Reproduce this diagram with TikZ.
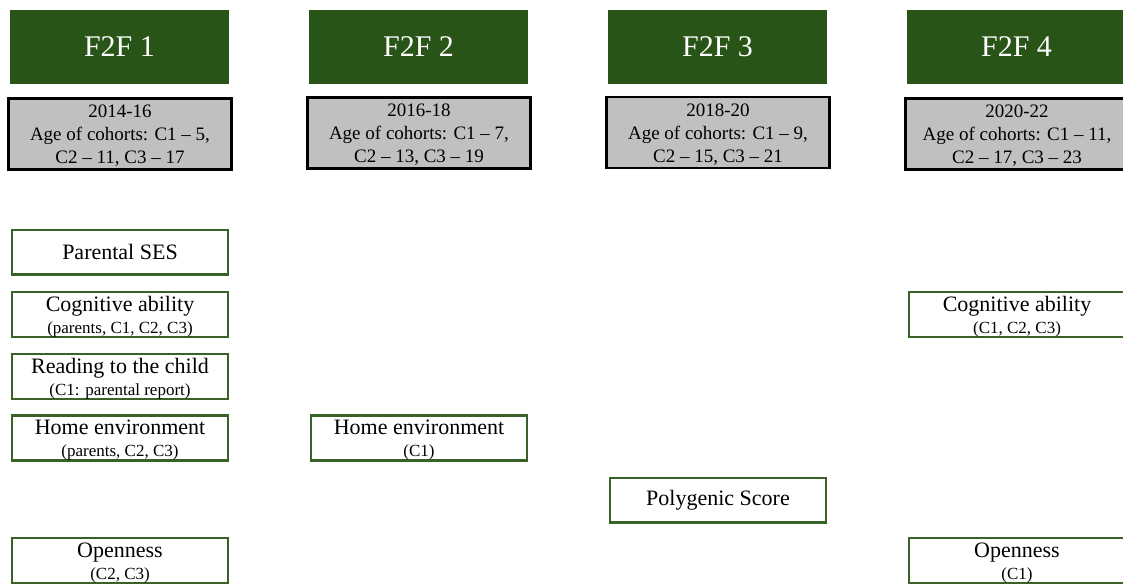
\documentclass[tikz,border=0pt]{standalone}
\usepackage{fontspec}
\setmainfont{Liberation Serif}
\usepackage{xcolor}
\usetikzlibrary{positioning}
\definecolor{wavegreen}{RGB}{41,84,24}
\definecolor{boxgreen}{RGB}{56,99,40}
\definecolor{yeargray}{RGB}{192,192,192}
\newcommand{\whonote}[1]{{\fontsize{17}{17}\selectfont #1}}

\begin{document}
\begin{tikzpicture}[x=1pt, y=-1pt,
		wave/.style={fill=wavegreen, text=white, minimum width=219pt, minimum height=74pt, inner sep=0pt, font=\fontsize{30}{32}\selectfont},
		yearbox/.style={draw=black, line width=2.8pt, fill=yeargray, minimum width=223pt, minimum height=71pt, inner sep=0pt, align=center, font=\fontsize{19}{23}\selectfont},
		measure/.style={draw=boxgreen, line width=2.5pt, minimum width=216pt, minimum height=44.5pt, inner sep=0pt, align=center, font=\fontsize{22}{22}\selectfont}]
					\useasboundingbox (0,0) rectangle (1123,583);
					\clip (0,0) rectangle (1123,583);
					% Waves
					\node[wave] (f2f1) at (119.5,47) {F2F 1};
					\node[wave] (f2f2) at (418.5,47) {F2F 2};
					\node[wave] (f2f3) at (717.5,47) {F2F 3};
					\node[wave] (f2f4) at (1016.5,47) {F2F 4};
					% Years and ages of cohorts
					\node[yearbox] (years1) at (120,134) {\rule{0pt}{16pt}2014-16\\Age of cohorts: C1 -- 5,\\C2 -- 11, C3 -- 17};
					\node[yearbox] (years2) at (419,133) {\rule{0pt}{16pt}2016-18\\Age of cohorts: C1 -- 7,\\C2 -- 13, C3 -- 19};
					\node[yearbox] (years3) at (718,132.5) {\rule{0pt}{16pt}2018-20\\Age of cohorts: C1 -- 9,\\C2 -- 15, C3 -- 21};
					\node[yearbox] (years4) at (1017,134) {\rule{0pt}{16pt}2020-22\\Age of cohorts: C1 -- 11,\\C2 -- 17, C3 -- 23};
					% F2F 1 measures
					\node[measure] (ses1) at (120,252) {Parental SES};
					\node[measure] (cog1) at (120,314.5) {\rule{0pt}{19pt}Cognitive ability\\\whonote{(parents, C1, C2, C3)}};
					\node[measure] (read1) at (120,376.5) {\rule{0pt}{19pt}Reading to the child\\\whonote{(C1: parental report)}};
					\node[measure] (home1) at (120,438) {\rule{0pt}{19pt}Home environment\\\whonote{(parents, C2, C3)}};
					\node[measure] (open1) at (120,560.5) {\rule{0pt}{19pt}Openness\\\whonote{(C2, C3)}};
					% F2F 2 measures
					\node[measure] (home2) at (419,438) {\rule{0pt}{19pt}Home environment\\\whonote{(C1)}};
					% F2F 3 measures
					\node[measure] (pgs3) at (718,500) {Polygenic Score};
					% F2F 4 measures
					\node[measure] (cog4) at (1017,314.5) {\rule{0pt}{19pt}Cognitive ability\\\whonote{(C1, C2, C3)}};
					\node[measure] (open4) at (1017,560.5) {\rule{0pt}{19pt}Openness\\\whonote{(C1)}};
				\end{tikzpicture}
\end{document}
